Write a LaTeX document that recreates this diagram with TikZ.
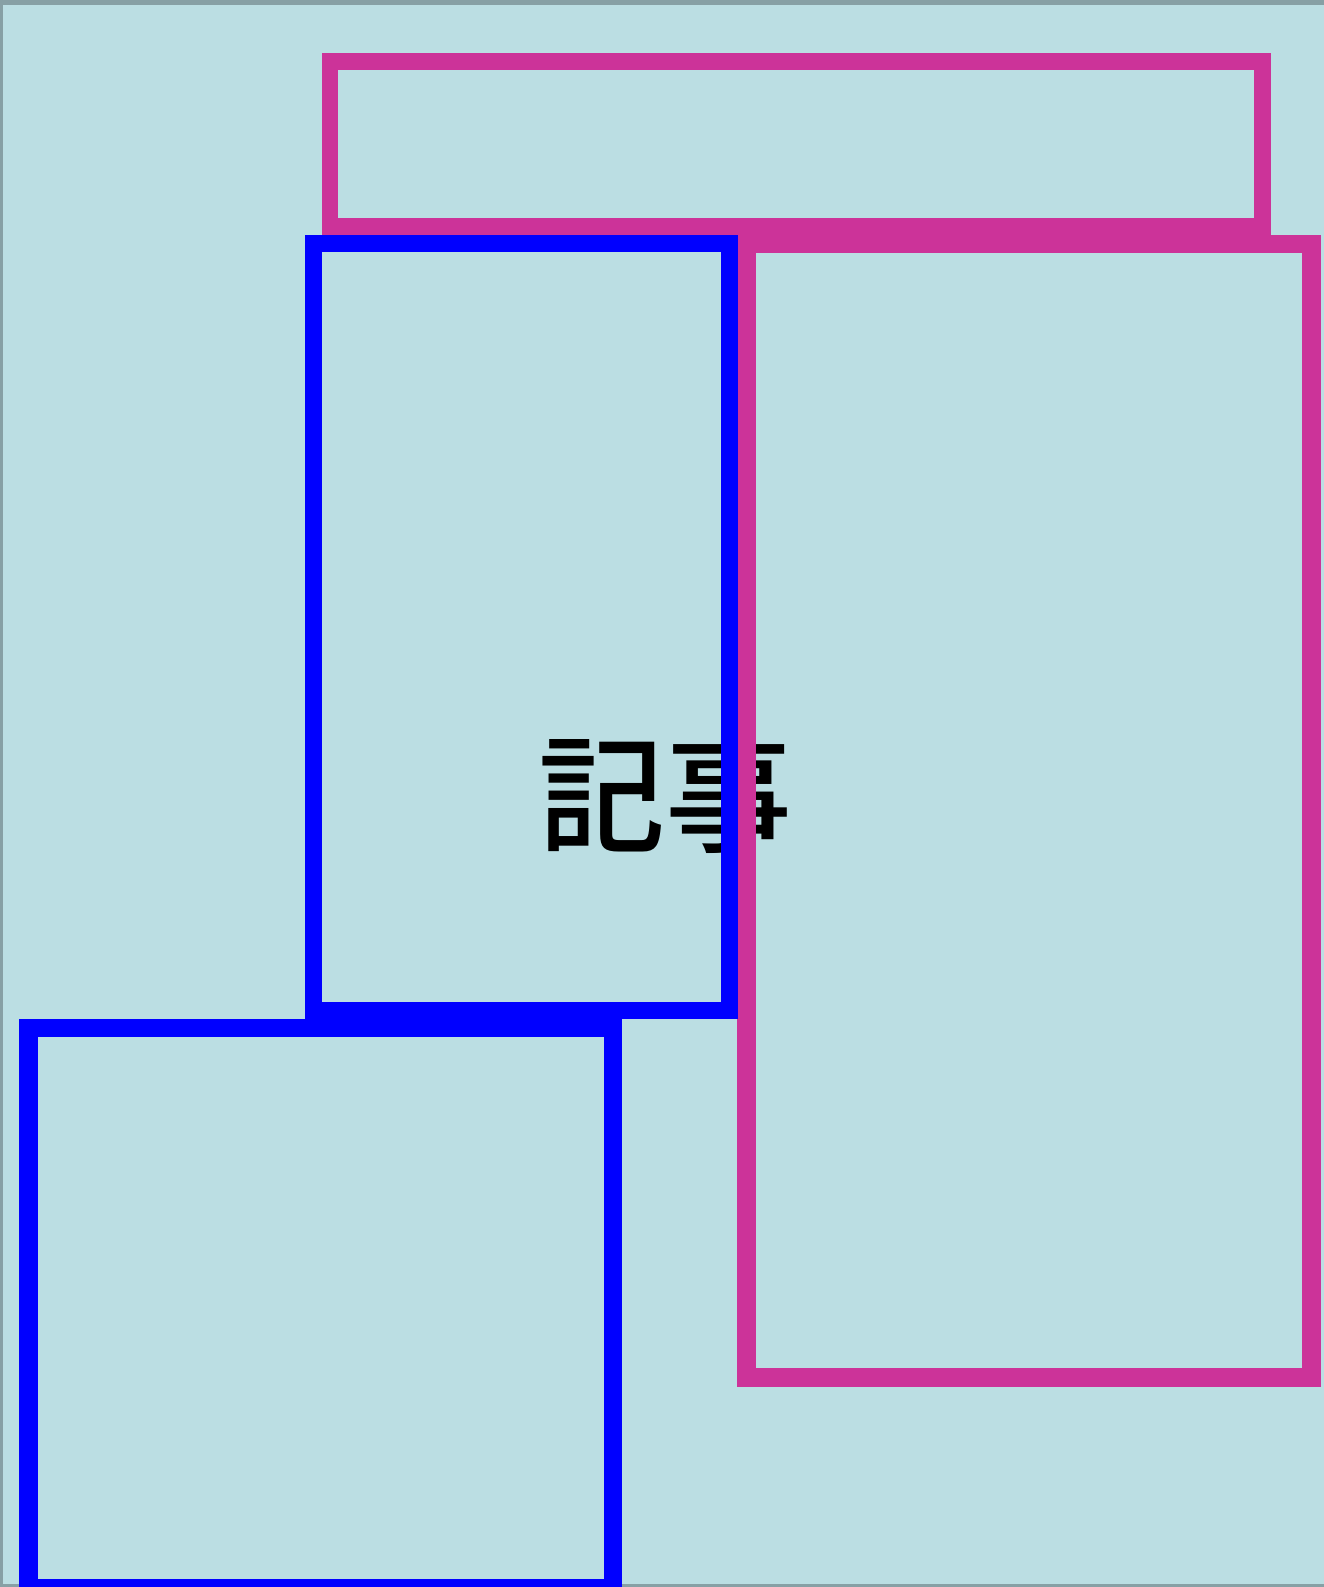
\documentclass[tikz,border=0pt]{standalone}
\usepackage{fontspec}
\IfFontExistsTF{Noto Sans CJK JP Medium}{\newfontfamily\cjk{Noto Sans CJK JP Medium}}{\newfontfamily\cjk[FakeBold=1]{Noto Sans CJK JP}}
\definecolor{bgblue}{RGB}{187,222,227}
\definecolor{framegray}{RGB}{135,160,165}
\definecolor{mag}{RGB}{204,51,153}
\definecolor{pureblue}{RGB}{0,0,255}
\begin{document}
\begin{tikzpicture}[x=1pt,y=-1pt,
  box/.style={draw, rectangle, inner sep=0pt, outer sep=0pt, anchor=north west, fill=none},
  magbox/.style={box, draw=mag},
  bluebox/.style={box, draw=pureblue}]
\useasboundingbox (0,0) rectangle (1324,1587);
\fill[framegray] (0,0) rectangle (1324,1587);
\fill[bgblue] (3,5) rectangle (1324,1584);
\node[font=\cjk\fontsize{127}{150}\selectfont, text=black, inner sep=0pt] (label) at (665,794) {記事};
\node[magbox, line width=16.5pt, minimum width=932.3pt, minimum height=165.2pt] (topbar) at (330.2,61.3) {};
\node[magbox, line width=18.5pt, minimum width=565.1pt, minimum height=1133.5pt] (rightpanel) at (746.5,244) {};
\node[bluebox, line width=17pt, minimum width=416.3pt, minimum height=767.2pt] (midpanel) at (313,243.5) {};
\node[bluebox, line width=18.4pt, minimum width=584.2pt, minimum height=559.8pt] (bottompanel) at (28.6,1028.1) {};
\end{tikzpicture}
\end{document}
